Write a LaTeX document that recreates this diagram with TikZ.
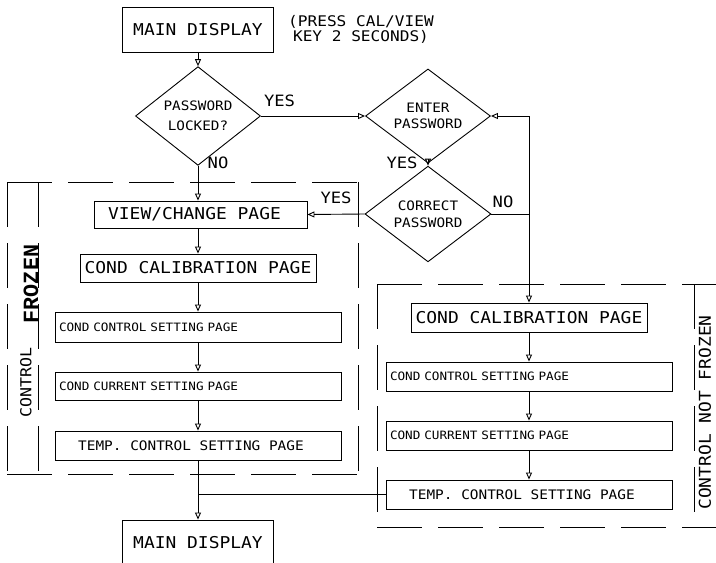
\documentclass[tikz,border=0pt]{standalone}
\usepackage{fontspec}
\newfontfamily\cad{DejaVu Sans Mono}[FakeStretch=1.1]
\newfontfamily\frzfont{Liberation Mono}
\usetikzlibrary{arrows.meta,shapes.geometric}
\tikzset{
  every node/.style={font=\cad},
  box/.style={draw, line width=0.9pt, inner sep=0pt, align=center},
  leftbox/.style={draw, line width=0.9pt, inner ysep=0pt, inner xsep=4pt, text width=278pt, align=left, minimum width=286pt},
  dia/.style={draw, diamond, inner sep=0pt, align=center, line width=0.9pt},
  arr/.style={-{Triangle[open,length=7pt,width=6pt]}, line width=0.9pt},
  ln/.style={line width=0.9pt},
  dashframe/.style={line width=0.9pt, dash pattern=on 45pt off 16pt},
  fbig/.style={font=\cad\fontsize{16.3}{18}\selectfont},
  fyes/.style={font=\cad\fontsize{15.6}{18}\selectfont},
  fsmall/.style={font=\cad\fontsize{11.5}{13}\selectfont},
  ftemp/.style={font=\cad\fontsize{13.1}{15}\selectfont},
}
\begin{document}
\begin{tikzpicture}[x=1pt,y=-1pt]
\useasboundingbox (0,0) rectangle (716,563);
% frames (each side drawn from its start so the dashes line up as in the reference)
\coordinate (lf1) at (7,182);
\coordinate (lf2) at (358,182);
\coordinate (lf3) at (7,474);
\coordinate (lf4) at (358,474);
\coordinate (lfi1) at (38,182);
\coordinate (lfi2) at (38,474);
\draw[dashframe] (lf1) -- (lf2);
\draw[dashframe] (lf3) -- (lf4);
\draw[dashframe] (lf1) -- (lf3);
\draw[dashframe] (lf2) -- (lf4);
\draw[dashframe] (lfi1) -- (lfi2);
\coordinate (rf1) at (377,284);
\coordinate (rf2) at (770,284);
\coordinate (rf3) at (377,527);
\coordinate (rf4) at (770,527);
\coordinate (rfi1) at (694,284);
\coordinate (rfi2) at (694,527);
\draw[dashframe] (rf1) -- (rf2);
\draw[dashframe] (rf3) -- (rf4);
\draw[dashframe] (rf1) -- (rf3);
\draw[dashframe] (rfi1) -- (rfi2);
% top
\node[box, fbig, minimum width=151pt, minimum height=45pt] (md1) at (198,29.5) {MAIN DISPLAY};
\node[align=center, font=\cad\fontsize{14.65}{15}\selectfont] (press) at (361,29) {(PRESS CAL/VIEW\\KEY 2 SECONDS)};
\node[dia, minimum width=125pt, minimum height=78pt, font=\cad\fontsize{13}{20}\selectfont] (d1) at (198,116) {PASSWORD\\LOCKED?};
\node[dia, minimum width=125pt, minimum height=79pt, font=\cad\fontsize{13}{15.5}\selectfont] (d2) at (428,116) {ENTER\\PASSWORD};
\node[dia, minimum width=126pt, minimum height=78pt, font=\cad\fontsize{13}{17}\selectfont] (d3) at (428,214) {CORRECT\\PASSWORD};
\coordinate (j1) at (529,116);
\coordinate (j2) at (529,214);
% left column
\node[box, fbig, minimum width=213pt, minimum height=27pt] (view) at (200.5,214.5) {VIEW/CHANGE PAGE\hspace*{12pt}};
\node[box, fbig, minimum width=236pt, minimum height=28pt] (lcal) at (198,268) {COND CALIBRATION PAGE};
\node[leftbox, fsmall, minimum height=30pt] (lctl) at (198,327) {COND CONTROL SETTING PAGE};
\node[leftbox, fsmall, minimum height=28pt] (lcur) at (198,386) {COND CURRENT SETTING PAGE};
\node[box, ftemp, minimum width=286pt, minimum height=29pt] (ltmp) at (198,445.5) {TEMP. CONTROL SETTING PAGE\hspace*{14pt}};
\node[box, fbig, minimum width=151pt, minimum height=45pt] (md2) at (198,542.5) {MAIN DISPLAY};
% right column
\node[box, fbig, minimum width=236pt, minimum height=29pt] (rcal) at (529,317.5) {COND CALIBRATION PAGE};
\node[leftbox, fsmall, minimum height=29pt] (rctl) at (529,376.5) {COND CONTROL SETTING PAGE};
\node[leftbox, fsmall, minimum height=29pt] (rcur) at (529,435.5) {COND CURRENT SETTING PAGE};
\node[box, ftemp, minimum width=286pt, minimum height=29pt] (rtmp) at (529,494.5) {TEMP. CONTROL SETTING PAGE\hspace*{14pt}};
% labels
\node[fyes] (yes1) at (279.5,101) {YES};
\node[fyes] (no1) at (218,163) {NO};
\node[fyes] (yes2) at (402,162.5) {YES};
\node[fyes] (no2) at (503,202) {NO};
\node[fyes] (yes3) at (336,198) {YES};
\node[fbig, rotate=90] (cnf) at (705,412.5) {CONTROL NOT FROZEN};
\node[font=\cad\fontsize{15.1}{17}\selectfont, rotate=90] (ctl) at (26,382) {CONTROL};
\node[font=\frzfont\bfseries\fontsize{21.7}{22}\selectfont, rotate=90] (frz) at (31,284) {FROZEN};
% connectors
\draw[arr] (md1.south) -- (d1.north);
\draw[arr] (d1.east) -- (d2.west);
\draw[arr] (j1) -- (d2.east);
\draw[ln] (d3.east) -- (j2);
\draw[arr] (j1) -- (rcal.north);
\draw[arr] (d2.south) -- (d3.north);
\draw[arr] (d3.west) -- (view.east);
\draw[arr] (d1.south) -- (d1.south |- view.north);
\draw[arr] (view.south -| lcal.north) -- (lcal.north);
\draw[arr] (lcal) -- (lctl);
\draw[arr] (lctl) -- (lcur);
\draw[arr] (lcur) -- (ltmp);
\draw[arr] (ltmp) -- (md2);
\draw[ln] (rtmp.west) -- (rtmp.west -| ltmp.south);
\draw[arr] (rcal) -- (rctl);
\draw[arr] (rctl) -- (rcur);
\draw[arr] (rcur) -- (rtmp);
\end{tikzpicture}
\end{document}
